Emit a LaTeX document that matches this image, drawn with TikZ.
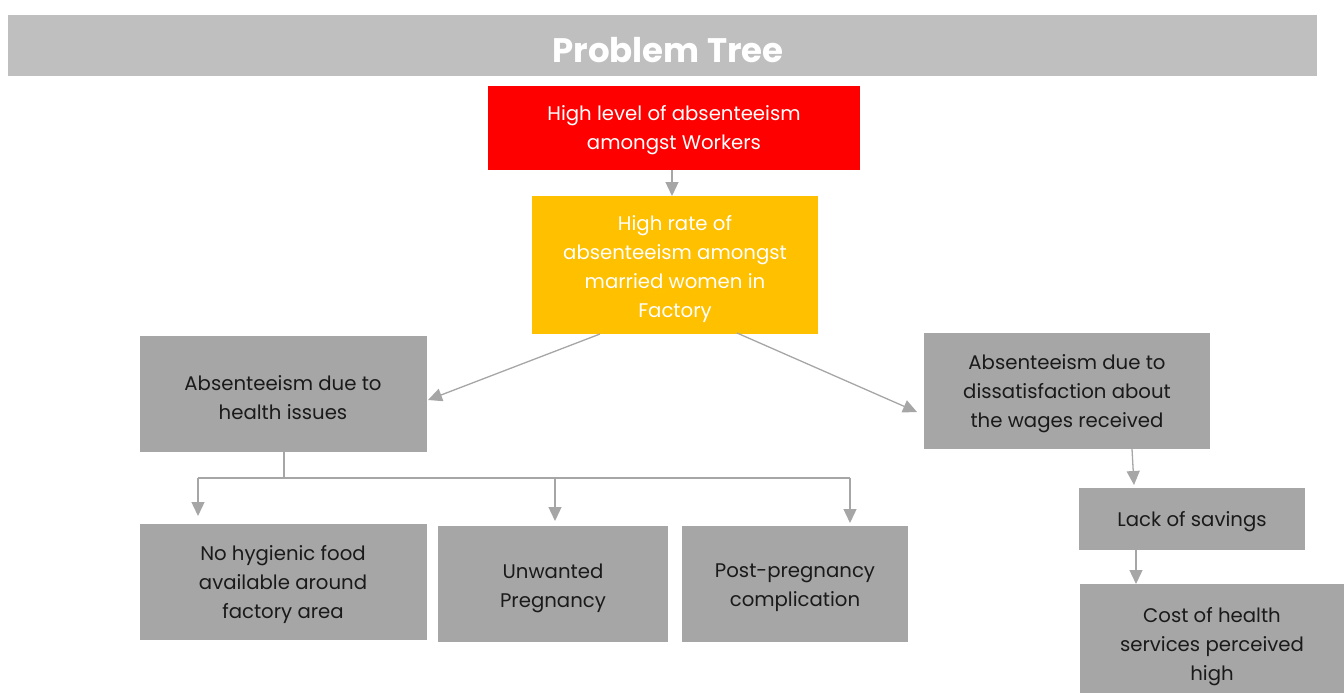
\documentclass[tikz,border=0pt]{standalone}
\usepackage{fontspec}
\setmainfont{Poppins}
\usetikzlibrary{arrows.meta}
\definecolor{barg}{HTML}{BFBFBF}
\definecolor{boxg}{HTML}{A6A6A6}
\definecolor{lineg}{HTML}{A6A6A6}
\definecolor{myred}{HTML}{FF0000}
\definecolor{myyel}{HTML}{FFC000}
\definecolor{txtk}{HTML}{1A1A1A}
\tikzset{
  x=1pt, y=-1pt,
  box/.style={inner sep=0pt, align=center, font=\fontsize{19.7}{29}\selectfont},
  conn/.style={draw=lineg, line width=1.3pt, -{Triangle[length=14pt,width=13pt]}},
  plain/.style={draw=lineg, line width=1.3pt}
}
\begin{document}
\begin{tikzpicture}
\useasboundingbox (0,0) rectangle (1344,693);
% title bar
\fill[barg] (8,15) rectangle (1317,76);
\node[text=white, font=\fontsize{34}{38}\selectfont\bfseries] (title) at (668,50) {Problem Tree};
% boxes
\fill[myred] (488,86) rectangle (860,170);
\node[box, text=white] (red) at (674,130) {High level of absenteeism\\amongst Workers};
\coordinate (redB) at (672,170);
\fill[myyel] (532,196) rectangle (818,334);
\node[box, text=white] (yel) at (675,269) {High rate of\\absenteeism amongst\\married women in\\Factory};
\coordinate (yelT) at (672,196);
\coordinate (yelL) at (600,334);
\coordinate (yelR) at (737,333);
\fill[boxg] (140,336) rectangle (427,452);
\node[box, text=txtk] (health) at (283,398) {Absenteeism due to\\health issues};
\coordinate (healthB) at (284,452);
\coordinate (healthL) at (428,400);
\fill[boxg] (924,333) rectangle (1210,449);
\node[box, text=txtk] (wage) at (1067,394) {Absenteeism due to\\dissatisfaction about\\the wages received};
\coordinate (wageL) at (917,412);
\coordinate (wageB) at (1132,449);
\fill[boxg] (140,524) rectangle (427,640);
\node[box, text=txtk] (food) at (283,585) {No hygienic food\\available around\\factory area};
\fill[boxg] (438,526) rectangle (668,642);
\node[box, text=txtk] (preg) at (553,588) {Unwanted\\Pregnancy};
\fill[boxg] (682,526) rectangle (908,642);
\node[box, text=txtk] (post) at (795,588) {Post-pregnancy\\complication};
\fill[boxg] (1079,488) rectangle (1305,550);
\node[box, text=txtk] (sav) at (1192,522) {Lack of savings};
\fill[boxg] (1080,584) rectangle (1344,693);
\node[box, text=txtk] (cost) at (1212,647) {Cost of health\\services perceived\\high};
% connectors
\draw[conn] (redB) -- (yelT);
\draw[conn] (yelL) -- (healthL);
\draw[conn] (yelR) -- (wageL);
\coordinate (hj) at (284,478);
\coordinate (j1) at (198,478);
\coordinate (j2) at (555,478);
\coordinate (j3) at (850,478);
\coordinate (e1) at (198,516);
\coordinate (e2) at (555,521);
\coordinate (e3) at (850,523);
\draw[plain] (healthB) -- (hj);
\draw[plain] (j1) -- (j3);
\draw[conn] (j1) -- (e1);
\draw[conn] (j2) -- (e2);
\draw[conn] (j3) -- (e3);
\coordinate (s1) at (1134,485);
\draw[conn] (wageB) -- (s1);
\coordinate (sB) at (1136,550);
\coordinate (c1) at (1136,584);
\draw[conn] (sB) -- (c1);
\end{tikzpicture}
\end{document}
